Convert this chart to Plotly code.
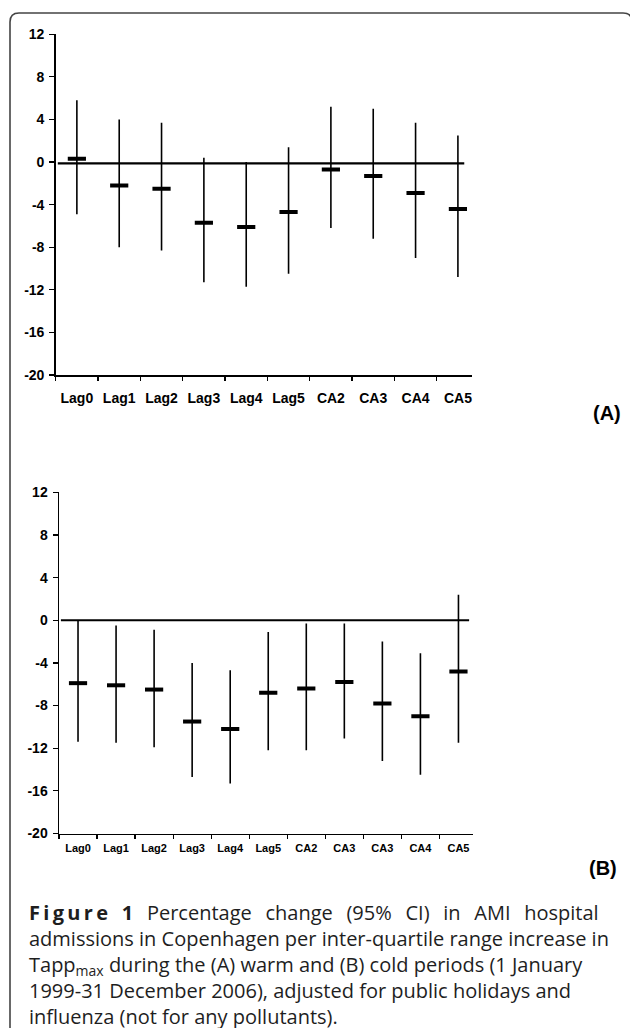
import plotly.graph_objects as go

# Panel A (warm period)
cats_a = ["Lag0", "Lag1", "Lag2", "Lag3", "Lag4", "Lag5", "CA2", "CA3", "CA4", "CA5"]
est_a = [0.3, -2.2, -2.5, -5.7, -6.1, -4.7, -0.7, -1.3, -2.9, -4.4]
low_a = [-4.9, -8.0, -8.3, -11.3, -11.7, -10.5, -6.2, -7.2, -9.0, -10.8]
high_a = [5.8, 4.0, 3.7, 0.4, 0.0, 1.4, 5.2, 5.0, 3.7, 2.5]

# Panel B (cold period)
cats_b = ["Lag0", "Lag1", "Lag2", "Lag3", "Lag4", "Lag5", "CA2", "CA3", "CA3", "CA4", "CA5"]
est_b = [-5.9, -6.1, -6.5, -9.5, -10.2, -6.8, -6.4, -5.8, -7.8, -9.0, -4.8]
low_b = [-11.4, -11.5, -11.9, -14.7, -15.3, -12.2, -12.2, -11.1, -13.2, -14.5, -11.5]
high_b = [0.0, -0.5, -0.9, -4.0, -4.7, -1.1, -0.3, -0.3, -2.0, -3.1, 2.4]

y_ticks = [-20, -16, -12, -8, -4, 0, 4, 8, 12]

W, H = 630, 1028

def px(x):
    return x / W

def py(y):
    return 1 - y / H

fig = go.Figure()

def add_panel(cats, est, low, high, xa, ya):
    xs = list(range(len(cats)))
    fig.add_trace(go.Scatter(
        x=xs, y=est, mode="markers", xaxis=xa, yaxis=ya, showlegend=False,
        marker=dict(symbol="line-ew", size=13, color="black",
                    line=dict(width=4, color="black")),
        error_y=dict(type="data", symmetric=False,
                     array=[h - e for h, e in zip(high, est)],
                     arrayminus=[e - l for e, l in zip(est, low)],
                     width=0, thickness=1.6, color="black"),
    ))

add_panel(cats_a, est_a, low_a, high_a, "x", "y")
add_panel(cats_b, est_b, low_b, high_b, "x2", "y2")

def xaxis_cfg(cats, dom, rmax, fs, standoff):
    n = len(cats)
    return dict(
        domain=dom, range=[-0.5, rmax], showgrid=False, zeroline=False,
        showline=True, linecolor="black", linewidth=1.5,
        tickmode="array", tickvals=list(range(n)), ticktext=cats, ticks="",
        ticklabelstandoff=standoff,
        tickfont=dict(family="Arial, Liberation Sans", size=fs, color="black", weight="bold"),
        minor=dict(tickmode="array", tickvals=[i - 0.5 for i in range(n)],
                   ticks="outside", ticklen=4, tickcolor="black", tickwidth=1.2),
        fixedrange=True,
    )

def yaxis_cfg(dom, anchor):
    return dict(
        domain=dom, range=[-20, 12], anchor=anchor, showgrid=False, zeroline=False,
        showline=True, linecolor="black", linewidth=1.5,
        tickmode="array", tickvals=y_ticks, ticktext=[str(v) for v in y_ticks],
        ticks="outside", ticklen=5, tickcolor="black", tickwidth=1.2,
        ticklabelstandoff=2,
        tickfont=dict(family="Arial, Liberation Sans", size=14, color="black", weight="bold"),
        fixedrange=True,
    )

fig.update_layout(
    width=W, height=H, margin=dict(l=0, r=0, t=0, b=0, autoexpand=False),
    paper_bgcolor="white", plot_bgcolor="white",
    xaxis=dict(xaxis_cfg(cats_a, [px(55.7), px(472.3)], 9.34, 14, 10), anchor="y"),
    yaxis=yaxis_cfg([py(375), py(34.3)], "x"),
    xaxis2=dict(xaxis_cfg(cats_b, [px(59), px(473.3)], 10.39, 11, 4), anchor="y2"),
    yaxis2=yaxis_cfg([py(833.5), py(492.3)], "x2"),
)

# zero reference lines
fig.add_shape(type="line", xref="x", yref="y", x0=-0.45, x1=9.15, y0=-0.12, y1=-0.12,
              line=dict(color="black", width=2.2))
fig.add_shape(type="line", xref="x2", yref="y2", x0=-0.45, x1=10.28, y0=0, y1=0,
              line=dict(color="black", width=2.2))

# rounded frame
L, R, T, B = px(10), px(632), py(13), -0.02
rx, ry = 9 / W, 9 / H
path = (f"M {L},{B} L {L},{T - ry} Q {L},{T} {L + rx},{T} "
        f"L {R - rx},{T} Q {R},{T} {R},{T - ry} L {R},{B}")
fig.add_shape(type="path", xref="paper", yref="paper", path=path,
              line=dict(color="#444", width=1.6))

# panel labels
fig.add_annotation(text="(A)", x=px(623), y=py(413), xref="paper", yref="paper",
                   xanchor="right", yanchor="middle", showarrow=False,
                   font=dict(family="Arial, Liberation Sans", size=20, color="black", weight="bold"))
fig.add_annotation(text="(B)", x=px(619), y=py(868), xref="paper", yref="paper",
                   xanchor="right", yanchor="middle", showarrow=False,
                   font=dict(family="Arial, Liberation Sans", size=20, color="black", weight="bold"))

# caption
nb = "\u00a0"
th = "\u2009"
g = nb * 2 + th
fig_word = th.join("Figure") + g + "1"
cap_lines = [
    f"<b>{fig_word}</b>{g}Percentage{g}change{g}(95%{g}CI){g}in{g}AMI{g}hospital",
    "admissions in Copenhagen per inter-quartile range increase in",
    "Tapp<sub>max</sub> during the (A) warm and (B) cold periods (1 January",
    "1999-31 December 2006), adjusted for public holidays and",
    "influenza (not for any pollutants).",
]
fig.add_annotation(text="<br>".join(cap_lines), x=px(28), y=py(898), xref="paper", yref="paper",
                   xanchor="left", yanchor="top", align="left", showarrow=False, borderpad=0,
                   font=dict(family="Open Sans", size=20, color="#1e1e1e"))

fig.write_html("out.html", config={"displayModeBar": False, "staticPlot": True},
               post_script="document.body.style.margin='0';document.body.style.overflow='hidden';")
